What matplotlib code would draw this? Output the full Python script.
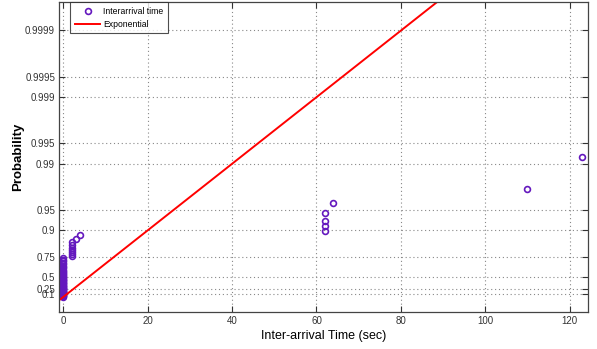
import numpy as np
import matplotlib.pyplot as plt

plt.rcParams['font.family'] = ['Liberation Sans', 'DejaVu Sans']

# inter-arrival times (sec) and how often each one occurs
times = [0, 2, 3, 4, 62, 64, 110, 123]
counts = [47, 7, 1, 1, 4, 1, 1, 1]

# fitted exponential mean
exp_mean = 8.7

prob_ticks = [0.1, 0.25, 0.5, 0.75, 0.9, 0.95, 0.99, 0.995, 0.999, 0.9995, 0.9999]
prob_labels = ['0.1', '0.25', '0.5', '0.75', '0.9', '0.95', '0.99', '0.995', '0.999', '0.9995', '0.9999']
x_ticks = [0, 20, 40, 60, 80, 100, 120]


def ptrans(p):
    # exponential probability scale
    return -np.log(1 - np.asarray(p))


data = np.sort(np.repeat(times, counts))
n = len(data)
pos = (np.arange(1, n + 1) - 0.5) / n

fig = plt.figure(figsize=(5.97, 3.49), dpi=100)
ax = fig.add_axes([0.0993, 0.106, 0.886, 0.888])

purple = '#6418be'
ax.plot(data, ptrans(pos), 'o', mfc='none', mec=purple, mew=1.2, ms=4.2,
        label='Interarrival time')

xlim = (-0.95, 124.4)
xx = np.array(xlim)
ax.plot(xx, xx / exp_mean, color='red', lw=1.4, label='Exponential')

ax.set_xlim(*xlim)
ax.set_ylim(-0.52, 10.18)
ax.set_xticks(x_ticks)
ax.set_yticks(ptrans(prob_ticks))
ax.set_yticklabels(prob_labels)

ax.grid(True, color='#888888', linestyle=(0, (1, 2.5)), lw=0.8)
ax.tick_params(direction='in', length=4, width=0.8, top=True, right=True,
               labelsize=7, colors='#333333', pad=3)
for s in ax.spines.values():
    s.set_color('#444444')
    s.set_linewidth(0.9)

ax.set_xlabel('Inter-arrival Time (sec)', fontsize=9, labelpad=3)
ax.set_ylabel('Probability', fontsize=9.5, fontweight='bold', labelpad=1)

leg = ax.legend(loc='upper left', bbox_to_anchor=(0.02, 1.0), fontsize=6.2,
                frameon=True, fancybox=False, borderaxespad=0, handlelength=3.0,
                handletextpad=0.3, borderpad=0.55, labelspacing=0.45)
leg.get_frame().set_edgecolor('#222222')
leg.get_frame().set_linewidth(0.8)

fig.savefig('out.png', dpi=100)
